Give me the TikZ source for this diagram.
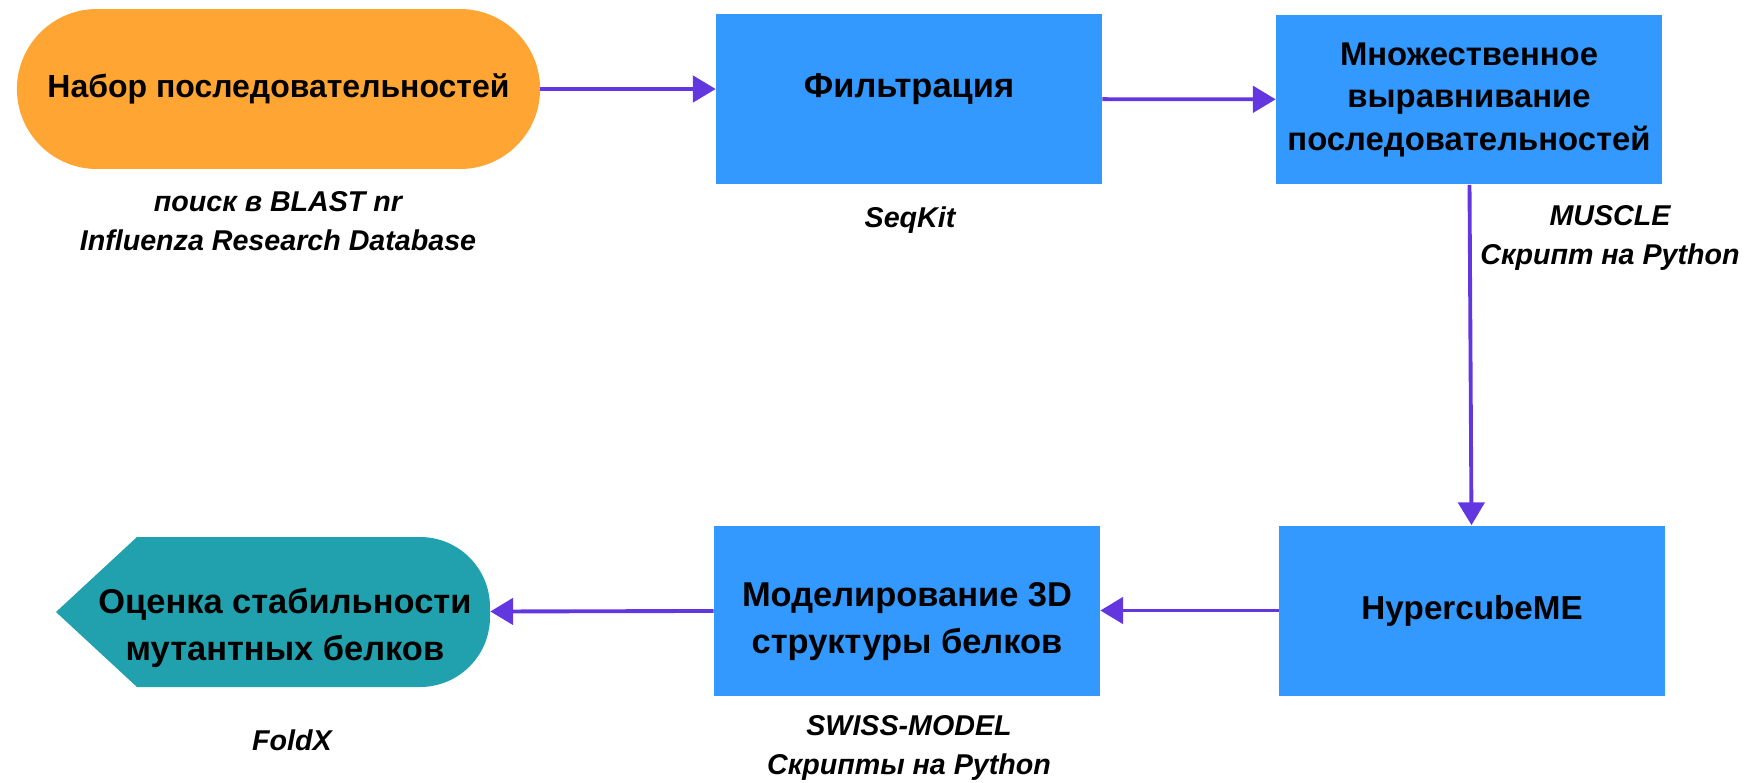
\documentclass[tikz,border=0pt]{standalone}
\usepackage{fontspec}
\setmainfont{Liberation Sans}
\usetikzlibrary{shapes.misc, positioning, arrows.meta}

\definecolor{srcorange}{RGB}{255,165,51}
\definecolor{stepblue}{RGB}{51,153,255}
\definecolor{endteal}{RGB}{33,160,173}
\definecolor{flowviolet}{RGB}{98,55,224}

\tikzset{
  boxtext/.style={align=center, font=\fontsize{19.6}{26.7}\selectfont\bfseries},
  stepbox/.style={rectangle, fill=stepblue, minimum width=7.72cm, minimum height=3.4cm, boxtext},
  srcbox/.style={rounded rectangle, fill=srcorange, minimum width=10.7cm, minimum height=3.2cm,
    boxtext, font=\fontsize{18.2}{24}\selectfont\bfseries},
  endbox/.style={rectangle, minimum width=8.68cm, minimum height=3cm, boxtext},
  tool/.style={align=center, font=\fontsize{16.3}{22.2}\selectfont\bfseries\itshape},
  flow/.style={draw=flowviolet, line width=2.2pt, -{Triangle[length=13pt, width=15pt]}}
}

\begin{document}
\begin{tikzpicture}[x=0.02cm, y=-0.02cm]
\useasboundingbox (0,0) rectangle (1746,782);

% teal end shape
\fill[endteal] (56,612) -- (137,537) -- (420,537) arc[start angle=90, end angle=0, radius=1.4cm]
  -- (490,617) arc[start angle=0, end angle=-90, radius=1.4cm] -- (137,687) -- cycle;

\node[srcbox](src) at (278.5,89) {Набор последовательностей};
\node[stepbox, label={[boxtext, yshift=5.5pt]center:Фильтрация}](filt) at (909,99) {};
\node[stepbox, font=\fontsize{18.7}{24.2}\selectfont\bfseries](align) at (1469,99.5)
  {Множественное\\выравнивание\\последовательностей};
\node[stepbox, font=\fontsize{18.9}{25}\selectfont\bfseries](hyper) at (1472,610.5) {HypercubeME};
\node[stepbox, label={[boxtext, yshift=-6.5pt]center:{Моделирование 3D\\структуры белков}}](model)
  at (907,610.5) {};
\node[endbox, label={[boxtext, xshift=6.8pt, yshift=-9pt]center:{Оценка стабильности\\мутантных белков}}](assess)
  at (273,612) {};

\node[tool](srctool) at (278,221) {поиск в BLAST nr\\Influenza Research Database};
\node[tool](filttool) at (910,220) {SeqKit};
\node[tool](aligntool) at (1610,237.5) {MUSCLE\\Скрипт на Python};
\node[tool](modeltool) at (909,748) {SWISS-MODEL\\Скрипты на Python};
\node[tool](assesstool) at (292,740) {FoldX};

\path(src.east)edge[flow](src.east -| filt.west);
\path(filt)edge[flow](align);
\path(align)edge[flow](hyper);
\path(hyper)edge[flow](model);
\path(model)edge[flow](assess);
\end{tikzpicture}
\end{document}
